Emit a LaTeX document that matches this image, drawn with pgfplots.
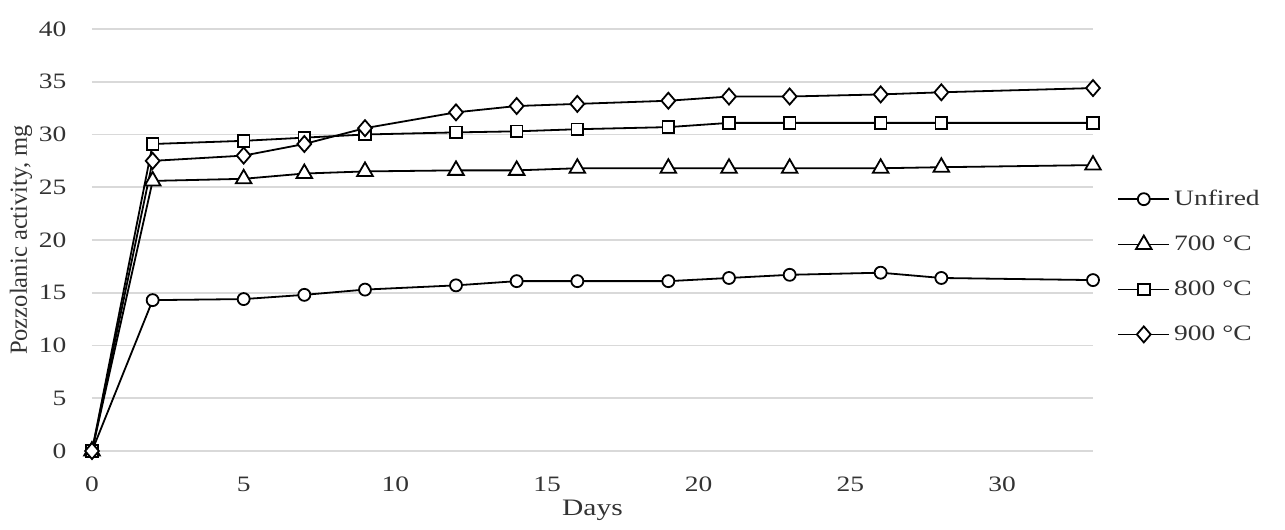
\documentclass[border=0pt]{standalone}
\usepackage{fontspec}
\setmainfont{Liberation Serif}[FakeStretch=1.25]
\newfontfamily\ylabfont{Liberation Serif}
\usepackage{pgfplots}
\pgfplotsset{compat=1.18}
\usepackage{pgfplotstable}
\definecolor{gridc}{HTML}{D9D9D9}
\definecolor{txt}{HTML}{333333}
\pgfplotstableread{
day unfired t700 t800 t900
0 0 0 0 0
2 14.3 25.6 29.1 27.5
5 14.4 25.8 29.4 28.0
7 14.8 26.3 29.7 29.1
9 15.3 26.5 30.0 30.6
12 15.7 26.6 30.2 32.1
14 16.1 26.6 30.3 32.7
16 16.1 26.8 30.5 32.9
19 16.1 26.8 30.7 33.2
21 16.4 26.8 31.1 33.6
23 16.7 26.8 31.1 33.6
26 16.9 26.8 31.1 33.8
28 16.4 26.9 31.1 34.0
33 16.2 27.1 31.1 34.4
}\data
\begin{document}
\fontsize{11}{13}\selectfont
\begin{tikzpicture}
\begin{axis}[name=ax,
  scale only axis, width=500.5pt, height=211pt,
  xmin=0, xmax=33, ymin=0, ymax=40,
  xtick={0,5,...,30}, ytick={0,5,...,40},
  axis line style={draw=none}, major tick length=0pt,
  ymajorgrids, grid style={gridc, line width=0.8pt},
  tick label style={font=\fontsize{11}{13}\selectfont, text=txt},
  /pgf/number format/assume math mode=true,
  yticklabel style={xshift=-9pt},
  xticklabel style={yshift=-9pt},
  xlabel={Days}, ylabel={Pozzolanic activity, mg},
  xlabel style={font=\fontsize{11.8}{13}\selectfont, text=txt, at={(axis description cs:0.5,-0.1398)}, anchor=center},
  ylabel style={font=\ylabfont\fontsize{12.3}{14}\selectfont, text=txt, at={(axis description cs:-0.071,0.5)}, anchor=center},
  clip=false,
  every axis plot/.append style={line width=0.9pt, black},
  legend style={at={(axis description cs:1,0.437)}, anchor=west, xshift=12pt, draw=none, fill=none, inner sep=0pt, row sep=9.5pt, font=\fontsize{11}{13}\selectfont, text=txt},
  legend cell align=left,
  legend image code/.code={\draw[mark repeat=2,mark phase=2] plot coordinates {(0pt,0pt)(12.75pt,0pt)(25.5pt,0pt)};},
]
\addplot[mark=*, mark size=3pt, mark options={fill=white, line width=0.9pt}] table[x=day,y=unfired]{\data};
\addlegendentry{Unfired}
\addplot[mark=triangle*, mark size=4.5pt, mark options={fill=white, line width=0.9pt}] table[x=day,y=t700]{\data};
\addlegendentry{700 °C}
\addplot[mark=square*, mark size=2.9pt, mark options={fill=white, line width=0.9pt}] table[x=day,y=t800]{\data};
\addlegendentry{800 °C}
\addplot[mark=diamond*, mark size=4pt, mark options={fill=white, line width=0.9pt, xscale=1.15}] table[x=day,y=t900]{\data};
\addlegendentry{900 °C}
\end{axis}
\pgfresetboundingbox
\path (ax.south west) ++(-46pt,-39.5pt) rectangle ++(642.5pt,265pt);
\end{tikzpicture}
\end{document}
